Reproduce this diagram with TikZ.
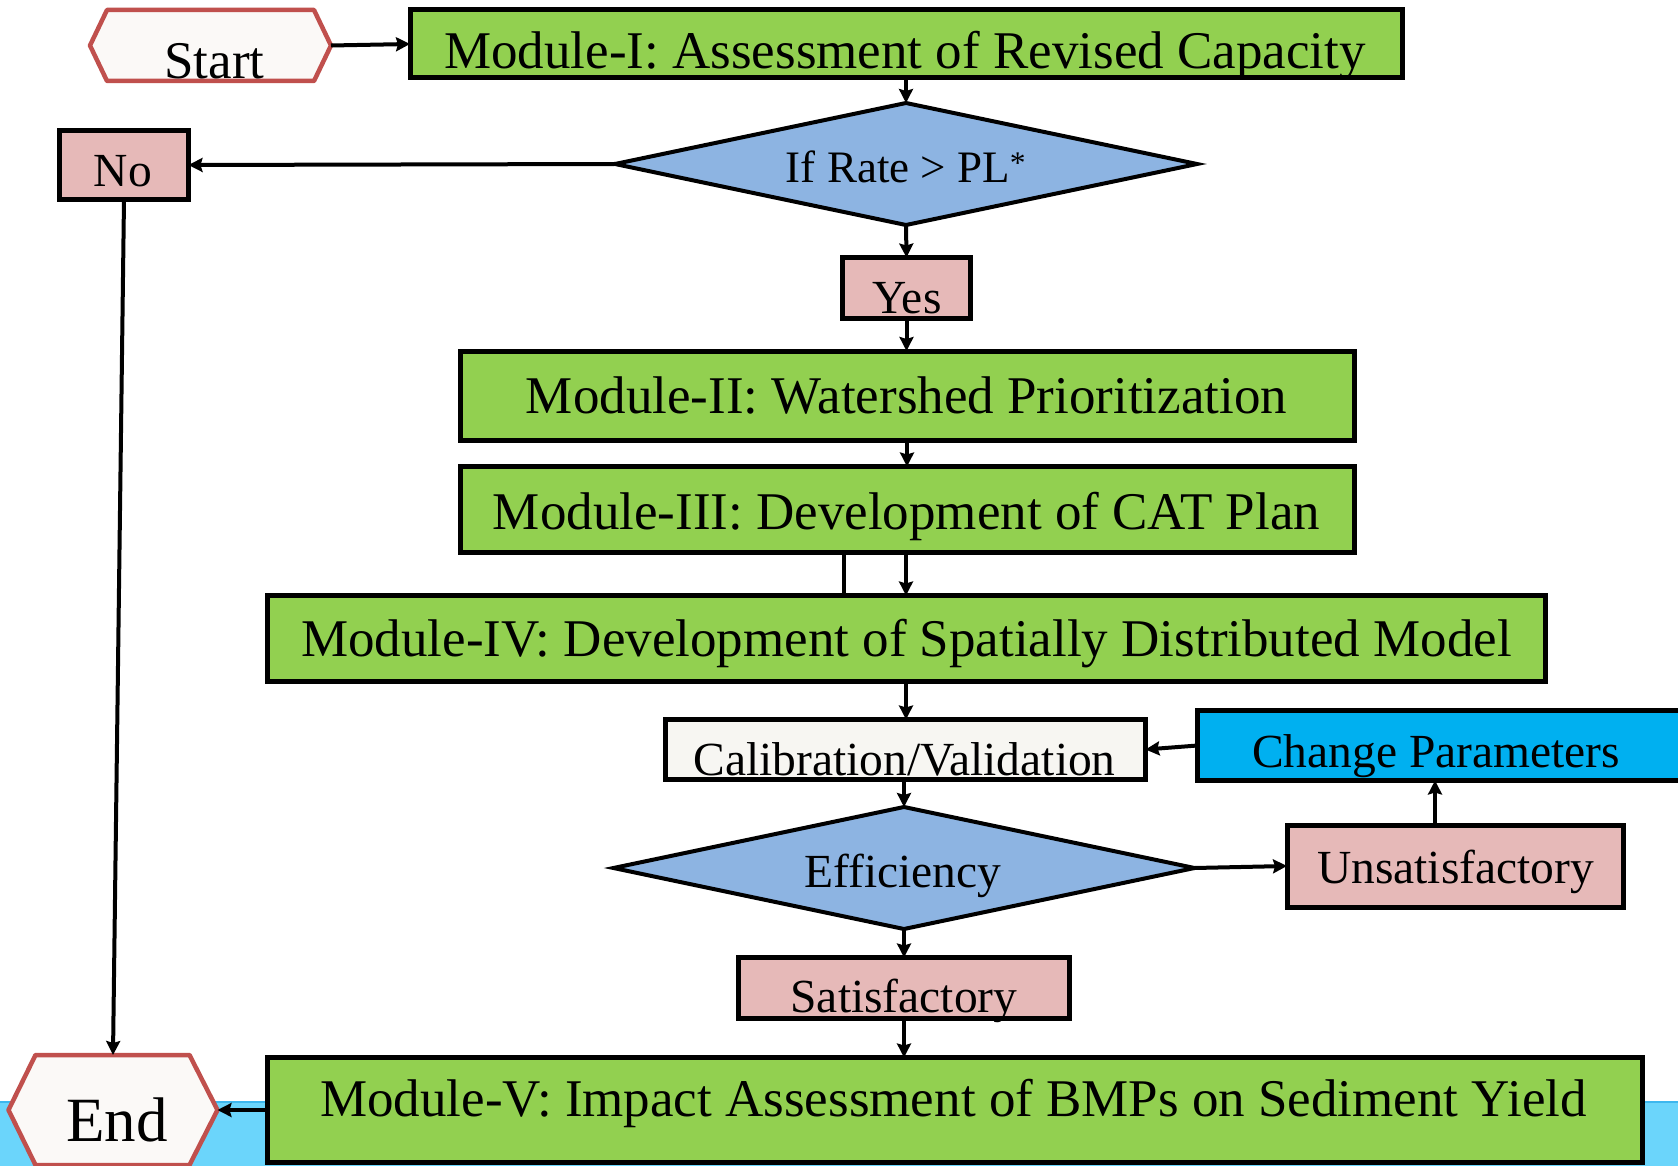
\documentclass[tikz,border=0pt]{standalone}
\usepackage{fontspec}
\setmainfont{Liberation Serif}
\usetikzlibrary{arrows.meta,shapes.geometric,calc}
\definecolor{grn}{HTML}{92D050}
\definecolor{pnk}{HTML}{E6B9B8}
\definecolor{dia}{HTML}{8DB4E2}
\definecolor{cyn}{HTML}{00B0F0}
\definecolor{hexred}{HTML}{C0504D}
\definecolor{hexfill}{HTML}{FBF9F7}
\definecolor{calfill}{HTML}{F7F6F2}
\definecolor{band}{HTML}{6BD5FB}
\definecolor{bandedge}{HTML}{3DB7EE}
\begin{document}
\begin{tikzpicture}[x=1pt,y=-1pt,
  box/.style={draw=black, line width=5pt, rectangle, inner sep=0pt, outer sep=0pt},
  module/.style={box, fill=grn},
  answer/.style={box, fill=pnk},
  decision/.style={draw=black, line width=4pt, diamond, fill=dia, inner sep=0pt, outer sep=0pt},
  frame/.style={rectangle, inner sep=0pt, outer sep=0pt},
  hexa/.style={draw=hexred, fill=hexfill, line width=4.5pt, line join=round},
  lbl/.style={anchor=base, inner sep=0pt, font=\fontsize{47.5}{50}\selectfont},
  dlbl/.style={anchor=base, inner sep=0pt, font=\fontsize{45}{48}\selectfont},
  biglbl/.style={anchor=base, inner sep=0pt, font=\fontsize{53}{56}\selectfont},
  hugelbl/.style={anchor=base, inner sep=0pt, font=\fontsize{63}{66}\selectfont},
  conn/.style={line width=4pt, -{Stealth[length=14pt,width=14pt,inset=2pt]}},
  plain/.style={line width=4pt},
]
\useasboundingbox (0,0) rectangle (1678,1166);
\fill[white] (0,0) rectangle (1678,1166);
% bottom band
\fill[band] (0,1102) rectangle (1678,1166);
\draw[bandedge, line width=1.5pt] (0,1102) -- (1678,1102);

% Start hexagon
\node[frame, minimum width=241, minimum height=71] (start) at (210.5,45.5) {};
\draw[hexa] (start.west) -- ($(start.north west)+(17,0)$) -- ($(start.north east)+(-17,0)$)
  -- (start.east) -- ($(start.south east)+(-17,0)$) -- ($(start.south west)+(17,0)$) -- cycle;
\node[biglbl] (tstart) at (214.5,79) {Start};

% End hexagon
\node[frame, minimum width=209, minimum height=110] (end) at (113,1110) {};
\draw[hexa] (end.west) -- ($(end.north west)+(27,0)$) -- ($(end.north east)+(-28,0)$)
  -- (end.east) -- ($(end.south east)+(-28,0)$) -- ($(end.south west)+(27,0)$) -- cycle;
\node[hugelbl] (tend) at (117,1141) {End};

% Modules
\node[module, minimum width=992, minimum height=68] (m1) at (906,44) {};
\node[biglbl] (tm1) at (905,69) {Module-I: Assessment of Revised Capacity};

\node[decision, minimum width=582, minimum height=122] (d1) at (906,164) {};
\node[dlbl] (td1) at (906,183) {If Rate > PL\textsuperscript{*}};

\node[answer, minimum width=129, minimum height=69] (no) at (124,165) {};
\node[lbl] (tno) at (123,187) {No};

\node[answer, minimum width=128, minimum height=61] (yes) at (906.5,288) {};
\node[lbl] (tyes) at (907,313) {Yes};

\node[module, minimum width=894, minimum height=89] (m2) at (907,395.5) {};
\node[biglbl] (tm2) at (906.5,413) {Module-II: Watershed Prioritization};

\node[module, minimum width=894, minimum height=86] (m3) at (907,509.5) {};
\node[biglbl] (tm3) at (906.5,529) {Module-III: Development of CAT Plan};

\node[module, minimum width=1278, minimum height=86] (m4) at (906.5,638.5) {};
\node[biglbl] (tm4) at (906.5,656) {Module-IV: Development of Spatially Distributed Model};

\node[box, fill=calfill, minimum width=480, minimum height=60] (cal) at (905.5,749.5) {};
\node[lbl] (tcal) at (904.5,775) {Calibration/Validation};

\node[box, fill=cyn, minimum width=487, minimum height=70] (cp) at (1441,745.5) {};
\node[lbl] (tcp) at (1436,767) {Change Parameters};

\node[decision, minimum width=581, minimum height=122] (d2) at (904,868) {};
\node[lbl] (td2) at (903,887) {Efficiency};

\node[answer, minimum width=336, minimum height=82] (uns) at (1455,866) {};
\node[lbl] (tuns) at (1455.5,883) {Unsatisfactory};

\node[answer, minimum width=331, minimum height=61] (sat) at (904,988) {};
\node[lbl] (tsat) at (904,1012) {Satisfactory};

\node[module, minimum width=1375, minimum height=105] (m5) at (955,1110) {};
\node[biglbl] (tm5) at (953.5,1116) {Module-V: Impact Assessment of BMPs on Sediment Yield};

% helper coordinates
\coordinate (m3b) at (844,0);
\coordinate (ucp) at (1435,0);

% connectors
\draw[conn] (start.east) -- (m1.west);
\draw[conn] (m1.south) -- (d1.north);
\draw[conn] (d1.west) -- (no.east);
\draw[conn] (d1.south) -- (yes.north);
\draw[conn] (yes.south) -- (m2.north -| yes.south);
\draw[conn] (m2.south) -- (m3.north);
\draw[conn] (m3.south -| m1.south) -- (m4.north -| m1.south);
\draw[plain] (m3.south -| m3b) -- (m4.north -| m3b);
\draw[conn] (m4.south -| m1.south) -- (cal.north -| m1.south);
\draw[conn] (cal.south -| d2.north) -- (d2.north);
\draw[conn] (cp.west) -- (cal.east);
\draw[conn] (d2.east) -- (uns.west);
\draw[conn] (uns.north -| ucp) -- (cp.south -| ucp);
\draw[conn] (d2.south) -- (sat.north);
\draw[conn] (sat.south) -- (m5.north -| sat.south);
\draw[conn] (m5.west) -- (end.east);
\draw[conn] (no.south) -- (end.north);
\end{tikzpicture}
\end{document}
